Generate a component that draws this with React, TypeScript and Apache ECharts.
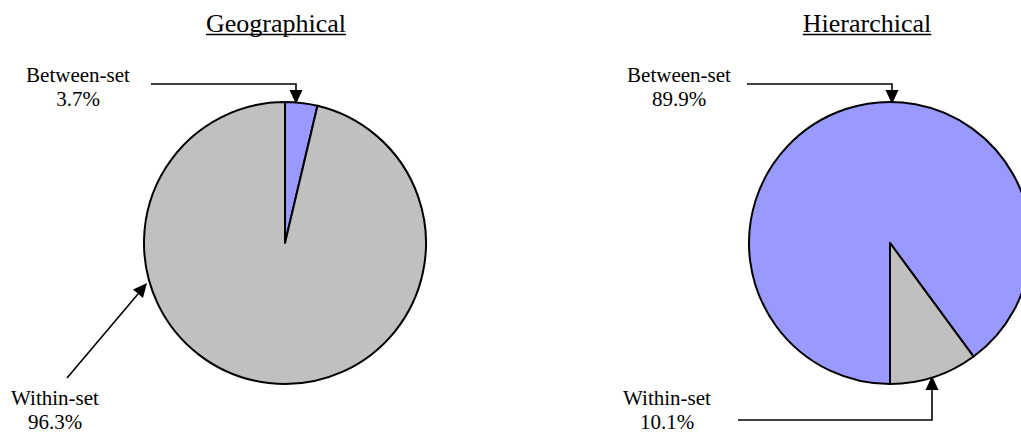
import React, { useEffect, useRef } from "react";
import * as echarts from "echarts";

const pieTitles = ["Geographical", "Hierarchical"];
const categories = ["Between-set", "Within-set"];
const geographicalValues = [3.7, 96.3];
const hierarchicalValues = [89.9, 10.1];
const sliceColors = ["#9999FF", "#C0C0C0"];

const FONT = '"Liberation Serif", "Times New Roman", serif';

function measure(text: string, size: number): number {
  const c = document.createElement("canvas").getContext("2d");
  if (!c) return text.length * size * 0.45;
  c.font = `${size}px "Liberation Serif"`;
  return c.measureText(text).width;
}

function arrowHead(tx: number, ty: number, dx: number, dy: number, len = 14, half = 6.5) {
  const l = Math.hypot(dx, dy);
  const ux = dx / l;
  const uy = dy / l;
  const bx = tx - ux * len;
  const by = ty - uy * len;
  return {
    type: "polygon",
    shape: {
      points: [
        [tx, ty],
        [bx - uy * half, by + ux * half],
        [bx + uy * half, by - ux * half],
      ],
    },
    style: { fill: "#000" },
    silent: true,
  };
}

function line(points: number[][]) {
  return {
    type: "polyline",
    shape: { points },
    style: { stroke: "#000", lineWidth: 1.6, fill: "none" },
    silent: true,
  };
}

function txt(x: number, y: number, text: string, size: number) {
  return {
    type: "text",
    x,
    y,
    style: {
      text,
      fontFamily: FONT,
      fontSize: size,
      fill: "#000",
      align: "center",
      verticalAlign: "middle",
    },
    silent: true,
  };
}

export default function App() {
  const ref = useRef<HTMLDivElement>(null);
  useEffect(() => {
    if (!ref.current) return;
    const chart = echarts.init(ref.current, undefined, { renderer: "svg" });

    const titleSize = 26;
    const labelSize = 21;
    const titlePos = [
      [276, 23],
      [867, 23],
    ];
    const graphics: any[] = [];
    pieTitles.forEach((t, i) => {
      const [cx, cy] = titlePos[i];
      graphics.push(txt(cx, cy, t, titleSize));
      const w = measure(t, titleSize);
      graphics.push({
        type: "line",
        shape: { x1: cx - w / 2, y1: cy + 11.5, x2: cx + w / 2, y2: cy + 11.5 },
        style: { stroke: "#000", lineWidth: 1.3 },
        silent: true,
      });
    });

    // Left pie labels
    graphics.push(txt(78, 75, categories[0], labelSize));
    graphics.push(txt(78, 99, `${geographicalValues[0]}%`, labelSize));
    graphics.push(line([[151, 84], [296, 84], [296, 92]]));
    graphics.push(arrowHead(296, 104, 0, 1));

    graphics.push(txt(55, 398, categories[1], labelSize));
    graphics.push(txt(55, 422, `${geographicalValues[1]}%`, labelSize));
    graphics.push(line([[67, 378], [138, 294]]));
    graphics.push(arrowHead(147, 283, 80, -95));

    // Right pie labels
    graphics.push(txt(679, 75, categories[0], labelSize));
    graphics.push(txt(679, 99, `${hierarchicalValues[0]}%`, labelSize));
    graphics.push(line([[747, 84], [892, 84], [892, 92]]));
    graphics.push(arrowHead(892, 104, 0, 1));

    graphics.push(txt(667, 398, categories[1], labelSize));
    graphics.push(txt(667, 422, `${hierarchicalValues[1]}%`, labelSize));
    graphics.push(line([[738, 420], [932, 420], [932, 388]]));
    graphics.push(arrowHead(932, 376, 0, -1));

    const pieBase = {
      type: "pie",
      radius: 141,
      clockwise: true,
      silent: true,
      label: { show: false },
      labelLine: { show: false },
      emphasis: { disabled: true },
      itemStyle: { borderColor: "#000", borderWidth: 2 },
    };

    chart.setOption({
      animation: false,
      backgroundColor: "#fff",
      series: [
        {
          ...pieBase,
          name: pieTitles[0],
          center: [285, 243],
          startAngle: 90,
          data: categories.map((c, i) => ({
            name: c,
            value: geographicalValues[i],
            itemStyle: { color: sliceColors[i] },
          })),
        },
        {
          ...pieBase,
          name: pieTitles[1],
          center: [890, 243],
          startAngle: 270,
          data: categories.map((c, i) => ({
            name: c,
            value: hierarchicalValues[i],
            itemStyle: { color: sliceColors[i] },
          })),
        },
      ],
      graphic: graphics,
    });
    return () => chart.dispose();
  }, []);
  return (
    <div
      ref={ref}
      style={{ position: "fixed", left: 0, top: 0, width: 1021, height: 434 }}
    />
  );
}
